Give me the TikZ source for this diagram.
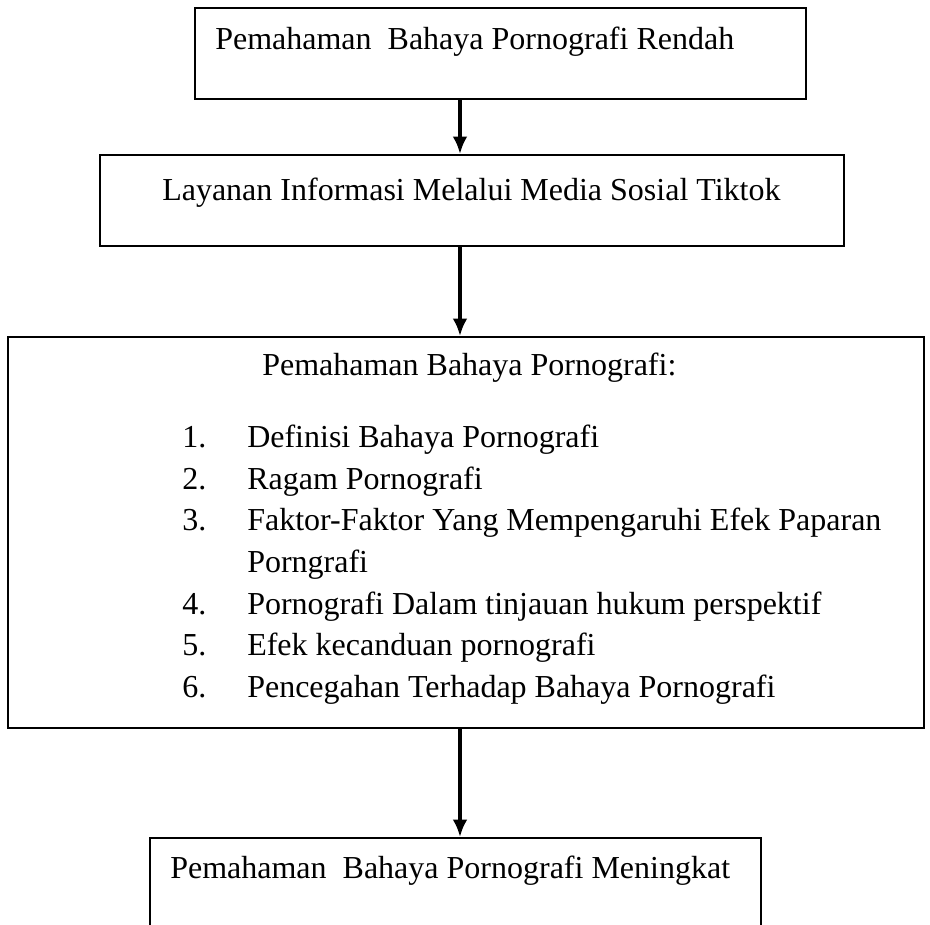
\documentclass[tikz,border=0pt]{standalone}
\usepackage{fontspec}
\setmainfont{Liberation Serif}
\usetikzlibrary{arrows.meta}

\begin{document}
\begin{tikzpicture}[x=0.75pt,y=-0.75pt,
	font=\fontsize{24}{29}\selectfont,
	kotak/.style={draw,line width=1.5pt,inner sep=0pt,anchor=north west},
	teks/.style={anchor=base west,inner sep=0pt},
	panah/.style={line width=3pt,-{Latex[length=13pt,width=11pt]}}]
	\clip (0,0) rectangle (930,924);
	\coordinate (poros) at (460,0);

	\node[kotak,minimum width=458.25pt,minimum height=68.25pt] (rendah) at (194,7) {};
	\node[kotak,minimum width=558pt,minimum height=68.25pt] (layanan) at (99,154) {};
	\node[kotak,minimum width=687pt,minimum height=293.25pt] (materi) at (7,336) {};
	\node[kotak,minimum width=458.25pt,minimum height=80pt] (meningkat) at (149,837) {};

	\node[teks] (rendahteks) at (215,50) {Pemahaman\ \ Bahaya Pornografi Rendah};
	\node[teks] (layananteks) at (162,200) {Layanan Informasi Melalui Media Sosial Tiktok};
	\node[teks] (materijudul) at (262,375) {Pemahaman Bahaya Pornografi:};
	\foreach \nomor/\isi/\yy in {1./Definisi Bahaya Pornografi/447,
			2./Ragam Pornografi/489,
			3./Faktor-Faktor Yang Mempengaruhi Efek Paparan/530,
			/Porngrafi/572,
			4./Pornografi Dalam tinjauan hukum perspektif/614,
			5./Efek kecanduan pornografi/655,
			6./Pencegahan Terhadap Bahaya Pornografi/697}{
		\node[teks] (nomor-\yy) at (182,\yy) {\nomor};
		\node[teks] (isi-\yy) at (247,\yy) {\isi};
	}
	\node[teks] (meningkatteks) at (170,878) {Pemahaman\ \ Bahaya Pornografi Meningkat};

	\draw[panah] (poros |- rendah.south) -- (poros |- layanan.north);
	\draw[panah] (poros |- layanan.south) -- (poros |- materi.north);
	\draw[panah] (poros |- materi.south) -- (poros |- meningkat.north);
\end{tikzpicture}
\end{document}
